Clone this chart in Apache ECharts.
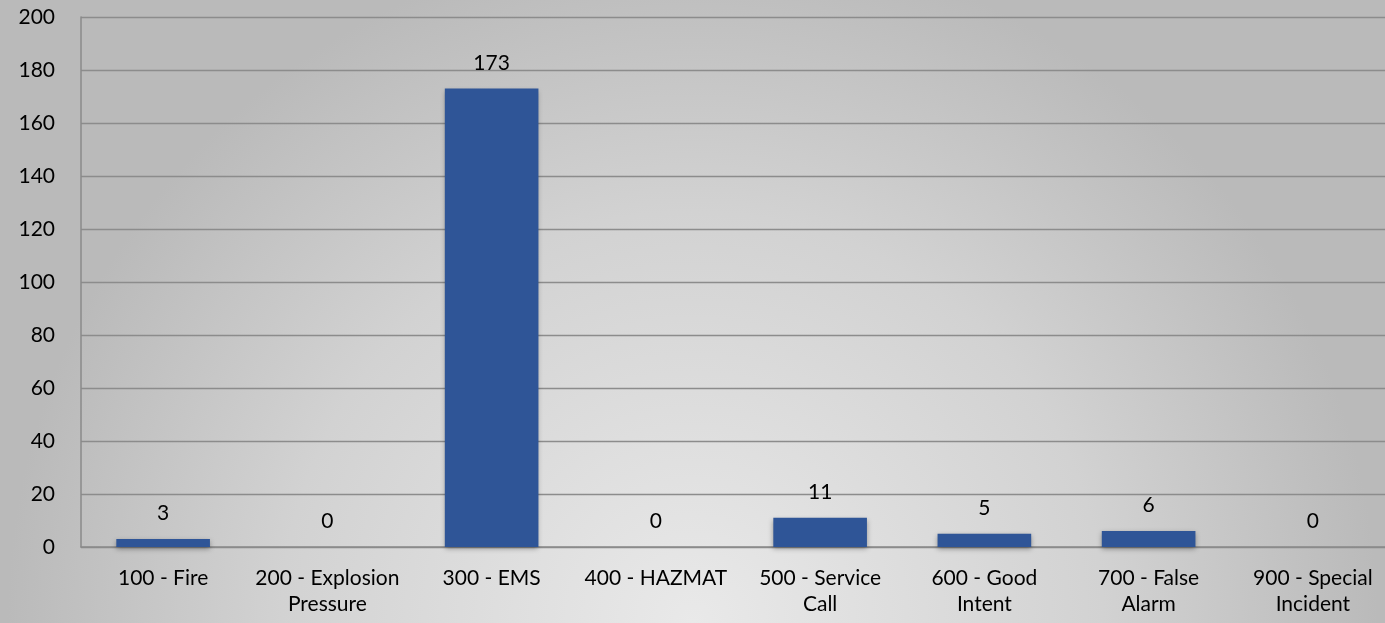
<!DOCTYPE html>
<html>
<head>
<meta charset="utf-8">
<script src="https://cdn.jsdelivr.net/npm/echarts@6/dist/echarts.min.js"></script>
<style>
html,body{margin:0;padding:0;width:1385px;height:623px;overflow:hidden;}
#c{width:1385px;height:623px;}
</style>
</head>
<body>
<div id="c"></div>
<script>
const categories = ["100 - Fire","200 - Explosion Pressure","300 - EMS","400 - HAZMAT","500 - Service Call","600 - Good Intent","700 - False Alarm","900 - Special Incident"];
const values = [3,0,173,0,11,5,6,0];
const yTicks = {min:0,max:200,interval:20};

const chart = echarts.init(document.getElementById('c'));
const font = 'Lato, "Open Sans", sans-serif';
chart.setOption({
  backgroundColor: {
    type:'radial', x:0.5, y:1.0, r:1.1,
    colorStops:[{offset:0,color:'#e9e9e9'},{offset:0.6,color:'#d2d2d2'},{offset:1,color:'#bababa'}]
  },
  grid:{left:81,right:-10,top:17,bottom:76,containLabel:false,outerBoundsMode:'none'},
  xAxis:{
    type:'category', data:categories,
    axisLine:{lineStyle:{color:'#8a8a8a',width:1.5}},
    axisTick:{show:false},
    axisLabel:{
      color:'#000', fontSize:21, fontFamily:font, lineHeight:26, margin:18, interval:0,
      formatter:function(v){const t=v.split(' '); return t.length>3 ? t.slice(0,3).join(' ')+'\n'+t.slice(3).join(' ') : v;}
    }
  },
  yAxis:{
    type:'value', min:yTicks.min, max:yTicks.max, interval:yTicks.interval,
    axisLine:{show:true,lineStyle:{color:'#8a8a8a',width:1.5}},
    axisTick:{show:false},
    splitLine:{lineStyle:{color:'#8c8c8c',width:1.3}},
    axisLabel:{color:'#000',fontSize:21,fontFamily:font,margin:26}
  },
  series:[{
    type:'bar', data:values, barWidth:'57%',
    itemStyle:{color:'#2F5597',shadowBlur:5,shadowColor:'rgba(0,0,0,0.35)',shadowOffsetY:2},
    label:{show:true,position:'top',distance:15,color:'#000',fontSize:21,fontFamily:font}
  }]
});
</script>
</body>
</html>
